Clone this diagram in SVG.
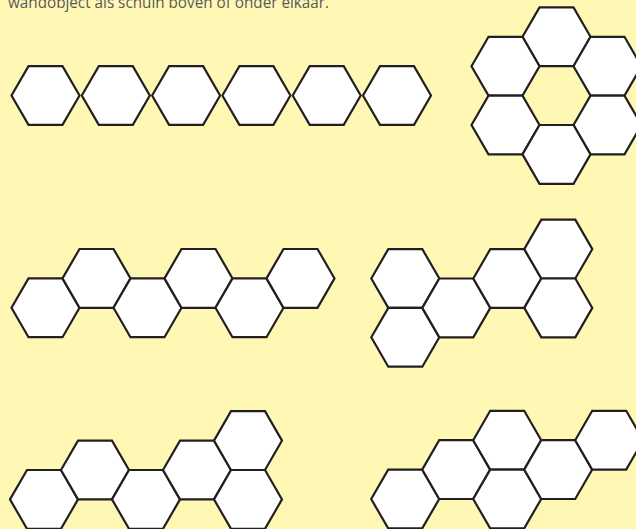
<svg xmlns="http://www.w3.org/2000/svg" xmlns:xlink="http://www.w3.org/1999/xlink" width="636" height="529" viewBox="0 0 636 529">
<style>
.hex{fill:#ffffff;stroke:#231f20;stroke-width:2.2;stroke-linejoin:miter}
.cap{font-family:"Open Sans","Liberation Sans",sans-serif;font-size:16.5px;fill:#595959}
</style>
<defs>
<polygon id="h" class="hex" points="-34,0 -17,-29.4 17,-29.4 34,0 17,29.4 -17,29.4"/>
</defs>
<rect width="636" height="529" fill="#fff8b4"/>
<text class="cap" x="8" y="8" textLength="321" lengthAdjust="spacingAndGlyphs">wandobject als schuin boven of onder elkaar.</text>
<g id="row1">
<g id="r1h1"><use xlink:href="#h" x="45.5" y="95.5"/></g>
<g id="r1h2"><use xlink:href="#h" x="115.8" y="95.5"/></g>
<g id="r1h3"><use xlink:href="#h" x="186.1" y="95.5"/></g>
<g id="r1h4"><use xlink:href="#h" x="256.4" y="95.5"/></g>
<g id="r1h5"><use xlink:href="#h" x="326.7" y="95.5"/></g>
<g id="r1h6"><use xlink:href="#h" x="397" y="95.5"/></g>
</g>
<g id="flower">
<g id="f1"><use xlink:href="#h" x="556.5" y="36.8"/></g>
<g id="f2"><use xlink:href="#h" x="505.5" y="66.2"/></g>
<g id="f3"><use xlink:href="#h" x="607.5" y="66.2"/></g>
<g id="f4"><use xlink:href="#h" x="505.5" y="125"/></g>
<g id="f5"><use xlink:href="#h" x="607.5" y="125"/></g>
<g id="f6"><use xlink:href="#h" x="556.5" y="154.4"/></g>
</g>
<g id="row2a">
<g id="a1"><use xlink:href="#h" x="45.5" y="307.8"/></g>
<g id="a2"><use xlink:href="#h" x="96.5" y="278.4"/></g>
<g id="a3"><use xlink:href="#h" x="147.5" y="307.8"/></g>
<g id="a4"><use xlink:href="#h" x="198.5" y="278.4"/></g>
<g id="a5"><use xlink:href="#h" x="249.5" y="307.8"/></g>
<g id="a6"><use xlink:href="#h" x="300.5" y="278.4"/></g>
</g>
<g id="row2b">
<g id="b1"><use xlink:href="#h" x="405.3" y="278.5"/></g>
<g id="b2"><use xlink:href="#h" x="405.3" y="337.3"/></g>
<g id="b3"><use xlink:href="#h" x="456.3" y="307.9"/></g>
<g id="b4"><use xlink:href="#h" x="507.3" y="278.5"/></g>
<g id="b5"><use xlink:href="#h" x="558.3" y="249.1"/></g>
<g id="b6"><use xlink:href="#h" x="558.3" y="307.9"/></g>
</g>
<g id="row3a">
<g id="c1"><use xlink:href="#h" x="44" y="499.4"/></g>
<g id="c2"><use xlink:href="#h" x="95" y="470"/></g>
<g id="c3"><use xlink:href="#h" x="146" y="499.4"/></g>
<g id="c4"><use xlink:href="#h" x="197" y="470"/></g>
<g id="c5"><use xlink:href="#h" x="248" y="440.6"/></g>
<g id="c6"><use xlink:href="#h" x="248" y="499.4"/></g>
</g>
<g id="row3b">
<g id="d1"><use xlink:href="#h" x="405.2" y="499"/></g>
<g id="d2"><use xlink:href="#h" x="456.2" y="469.6"/></g>
<g id="d3"><use xlink:href="#h" x="507.2" y="440.2"/></g>
<g id="d4"><use xlink:href="#h" x="507.2" y="499"/></g>
<g id="d5"><use xlink:href="#h" x="558.2" y="469.6"/></g>
<g id="d6"><use xlink:href="#h" x="609.2" y="440.2"/></g>
</g>
<g id="connectors"/>
</svg>
